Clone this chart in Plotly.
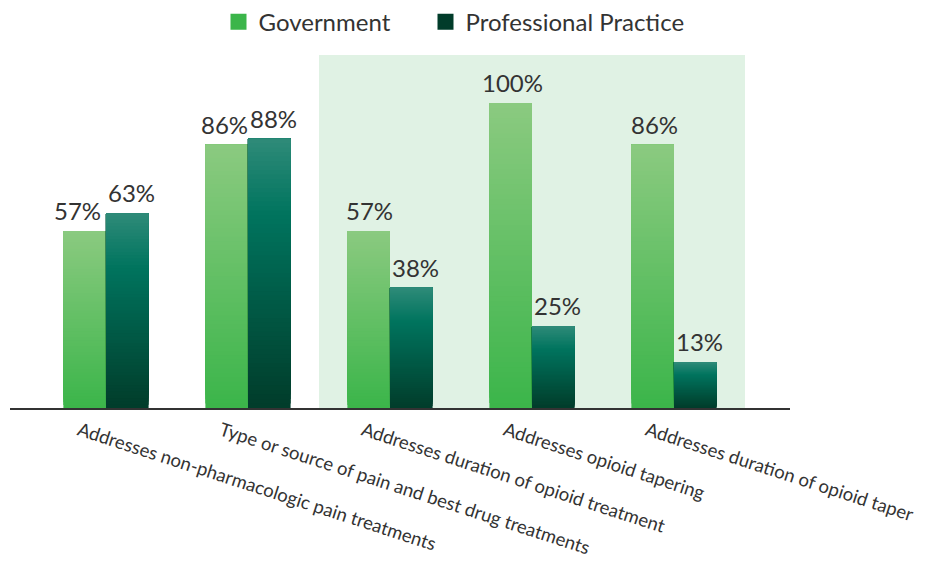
import plotly.graph_objects as go

categories = [
    "Addresses non-pharmacologic pain treatments",
    "Type or source of pain and best drug treatments",
    "Addresses duration of opioid treatment",
    "Addresses opioid tapering",
    "Addresses duration of opioid taper",
]
government = [57, 86, 57, 100, 86]
professional = [63, 88, 38, 25, 13]
series_names = ["Government", "Professional Practice"]

FONT = "Lato"
N = 60
BAR_W = 0.3
Y_FLOOR = -2.45  # value at the drawn baseline (bars start slightly below zero)
# label nudges in px (style only)
gov_label_shift = [-7, -2, 1, 2, 2]
pro_label_shift = [4, 4, 4, 4, 4]


def hex2rgb(h):
    h = h.lstrip("#")
    return tuple(int(h[i:i + 2], 16) for i in (0, 2, 4))


def interp(stops, t):
    for (t0, c0), (t1, c1) in zip(stops, stops[1:]):
        if t0 <= t <= t1:
            f = (t - t0) / (t1 - t0) if t1 > t0 else 0
            a, b = hex2rgb(c0), hex2rgb(c1)
            return "rgb(%d,%d,%d)" % tuple(round(a[i] + (b[i] - a[i]) * f) for i in range(3))
    return stops[-1][1]


gov_stops = [(0.0, "#3BB54A"), (1.0, "#8BCA80")]
pro_stops = [(0.0, "#013C2A"), (0.72, "#00745E"), (1.0, "#2F8B79")]

fig = go.Figure()


def add_series(values, stops, offset, name, legend_color, shifts, legend_id):
    # each layer spans from its level to the bar top; later layers cover the upper part
    for k in range(N):
        t = (k + 0.5) / N
        bases = [Y_FLOOR + (v - Y_FLOOR) * k / N for v in values]
        fig.add_trace(go.Bar(
            x=categories,
            y=[v - b for v, b in zip(values, bases)],
            base=bases,
            width=BAR_W,
            offset=offset,
            marker=dict(color=interp(stops, t), line=dict(width=0)),
            showlegend=False,
            hoverinfo="skip",
        ))
    fig.add_trace(go.Scatter(
        x=[None], y=[None], mode="markers", name=name, legend=legend_id,
        marker=dict(symbol="square", size=18, color=legend_color),
    ))
    for i, v in enumerate(values):
        fig.add_annotation(
            x=i + offset + BAR_W / 2, y=v, xref="x", yref="y",
            text=f"{v}%", showarrow=False, yanchor="bottom",
            xshift=shifts[i], yshift=4,
            font=dict(family=FONT, size=24, color="#333333"),
        )


add_series(government, gov_stops, -BAR_W, series_names[0], "#3BB54A", gov_label_shift, "legend")
add_series(professional, pro_stops, 0.0, series_names[1], "#013C2A", pro_label_shift, "legend2")

fig.add_shape(type="rect", xref="x", yref="y", x0=1.5, x1=4.5, y0=Y_FLOOR, y1=116.1,
              fillcolor="#E0F2E4", line=dict(width=0), layer="below")

legend_style = dict(orientation="h", xref="container", yref="container",
                    xanchor="left", y=0.961, yanchor="middle",
                    font=dict(family=FONT, size=24, color="#333333"), itemwidth=30,
                    bgcolor="rgba(0,0,0,0)")

fig.update_layout(
    width=934, height=567,
    barmode="overlay",
    margin=dict(l=10, r=144, t=50, b=159, autoexpand=False),
    paper_bgcolor="white", plot_bgcolor="rgba(0,0,0,0)",
    font=dict(family=FONT, color="#333333"),
    legend=dict(legend_style, x=218.5 / 934),
    legend2=dict(legend_style, x=425.5 / 934),
    xaxis=dict(range=[-0.676, 4.817], showline=True, linecolor="#333333", linewidth=2,
               showgrid=False, zeroline=False, ticks="", tickangle=18, automargin=False,
               tickfont=dict(family=FONT, size=18.5, color="#333333"),
               ticklabelshift=-27, ticklabelstandoff=3),
    yaxis=dict(range=[Y_FLOOR, 117.8], visible=False, showgrid=False, zeroline=False,
               automargin=False),
)

fig.write_html("out.html")
